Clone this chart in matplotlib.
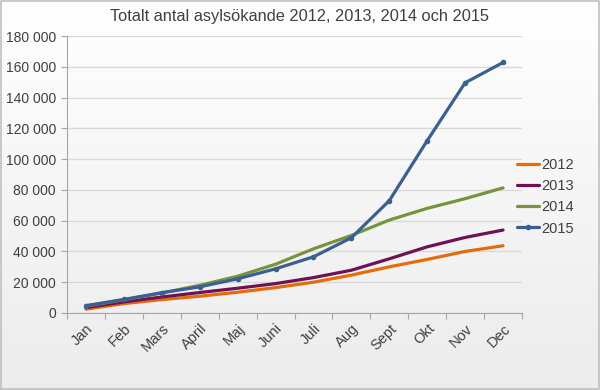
import matplotlib
matplotlib.use("Agg")
import matplotlib.pyplot as plt
import numpy as np
from matplotlib.ticker import FuncFormatter, FixedLocator

plt.rcParams['font.family'] = ['Liberation Sans', 'DejaVu Sans']

months = ["Jan", "Feb", "Mars", "April", "Maj", "Juni", "Juli", "Aug", "Sept", "Okt", "Nov", "Dec"]
y2012 = [2500, 6100, 8700, 10900, 13500, 16500, 20000, 24600, 30000, 34800, 40000, 43700]
y2013 = [3500, 7200, 10400, 13300, 16100, 19100, 23000, 27800, 35200, 43000, 49100, 53900]
y2014 = [4500, 8600, 13000, 18000, 23900, 31700, 41700, 50400, 60400, 68000, 74300, 81300]
y2015 = [4800, 8800, 13200, 17000, 22200, 28700, 36500, 48900, 73000, 112000, 149600, 162800]
series = [("2012", y2012, "#E46C0A", False),
          ("2013", y2013, "#6E1255", False),
          ("2014", y2014, "#77933C", False),
          ("2015", y2015, "#3A6091", True)]
title = "Totalt antal asylsökande 2012, 2013, 2014 och 2015"

fig = plt.figure(figsize=(6, 3.9), dpi=100)
# background gradient
bg = fig.add_axes([0, 0, 1, 1], zorder=-10)
grad = np.linspace(1.0, 0.925, 256).reshape(-1, 1)
bg.imshow(np.dstack([grad, grad, grad]), aspect='auto', extent=[0, 1, 0, 1])
bg.plot([0.0015, 0.9985, 0.9985, 0.0015, 0.0015], [0.002, 0.002, 0.998, 0.998, 0.002],
        color="#c0c0c0", lw=1.2, transform=bg.transAxes)
bg.set_xlim(0, 1); bg.set_ylim(0, 1)
bg.axis('off')

ax = fig.add_axes([67/600, 1-313/390, (522-67)/600, (313-36)/390])
ax.set_facecolor('none')
x = np.arange(len(months))
for name, vals, col, mk in series:
    ax.plot(x, vals, color=col, lw=2.3, label=name, solid_capstyle='round',
            marker='o' if mk else None, markersize=3)

ax.set_xlim(-0.5, 11.5)
ax.set_ylim(0, 180000)
ax.set_yticks(np.arange(0, 180001, 20000))
ax.yaxis.set_major_formatter(FuncFormatter(lambda v, p: f"{int(v):,}".replace(",", " ")))
ax.grid(axis='y', color='#d9d9d9', lw=1)
ax.set_axisbelow(True)

ax.xaxis.set_major_locator(FixedLocator(np.arange(-0.5, 12, 1)))
ax.xaxis.set_minor_locator(FixedLocator(x))
ax.set_xticklabels([], minor=False)
ax.set_xticklabels(months, minor=True, rotation=45, ha='right', rotation_mode='anchor',
                   fontsize=10.5, color='#404040')
ax.tick_params(axis='x', which='minor', length=0, pad=6)
ax.tick_params(axis='x', which='major', length=4, color='#a6a6a6', direction='out')
ax.tick_params(axis='y', length=4, color='#a6a6a6', labelsize=10, labelcolor='#404040', pad=4)

for s in ['top', 'right']:
    ax.spines[s].set_visible(False)
for s in ['left', 'bottom']:
    ax.spines[s].set_color('#a6a6a6')

fig.text(0.5, 1 - 17/390, title, fontsize=11.8, color='#404040', ha='center', va='center')
leg = ax.legend(loc='center left', bbox_to_anchor=(0.976, 0.42), frameon=False,
                fontsize=10.5, handlelength=1.5, handletextpad=0.2, labelspacing=0.5,
                borderaxespad=0)
for t in leg.get_texts():
    t.set_color('#404040')

fig.savefig("out.png", dpi=100)
